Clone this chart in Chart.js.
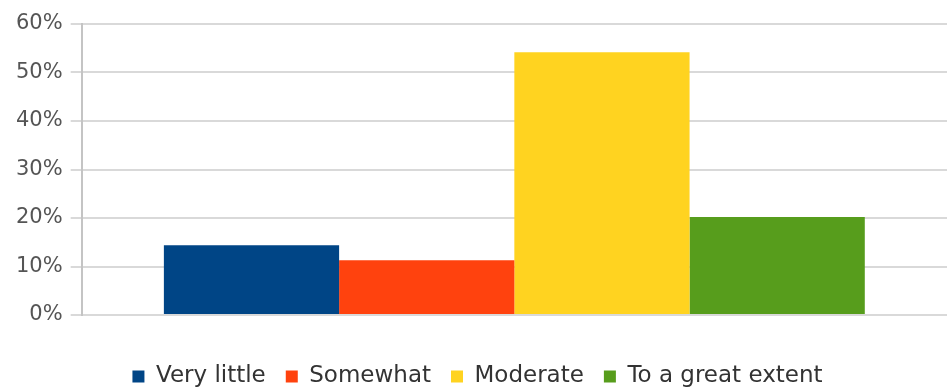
<!DOCTYPE html>
<html>
<head>
<meta charset="utf-8">
<script src="https://cdn.jsdelivr.net/npm/chart.js@4/dist/chart.umd.min.js"></script>
<style>
  html, body { margin: 0; padding: 0; background: #fff; }
  #wrap { width: 947px; height: 390px; }
</style>
</head>
<body>
<div id="wrap"><canvas id="bar-chart"></canvas></div>
<script>
  // categories / series
  const categories = [''];
  const seriesNames = ['Very little', 'Somewhat', 'Moderate', 'To a great extent'];
  const seriesValues = [14.4, 11.3, 54.2, 20.2];
  const seriesColors = ['#004586', '#ff420e', '#ffd320', '#579d1c'];
  const yTicks = [0, 10, 20, 30, 40, 50, 60];

  const barCtx = document.getElementById('bar-chart').getContext('2d');

  new Chart(barCtx, {
    type: 'bar',
    data: {
      labels: categories,
      datasets: seriesNames.map(function (name, i) {
        return {
          label              : name,
          backgroundColor    : seriesColors[i],
          borderWidth        : 0,
          data               : [seriesValues[i]],
          categoryPercentage : 0.81,
          barPercentage      : 1,
        };
      }),
    },
    options: {
      responsive: true,
      maintainAspectRatio: false,
      animation: false,
      layout: {
        padding: { top: 24, right: 0, left: 8, bottom: -8 },
      },
      plugins: {
        tooltip: { enabled: false },
        legend: {
          position: 'bottom',
          labels: {
            boxWidth: 12,
            boxHeight: 12,
            padding: 20,
            color: '#333',
            font: { family: 'DejaVu Sans', size: 23 },
          },
        },
      },
      scales: {
        x: {
          ticks: { display: false },
          grid: { display: false },
          border: { display: false },
          title: {
            display: true,
            text: '',
            font: { size: 10 },
            padding: { top: 10, bottom: 0 },
          },
        },
        y: {
          min: yTicks[0],
          max: yTicks[yTicks.length - 1],
          afterBuildTicks: function (axis) {
            axis.ticks = yTicks.map(function (v) { return { value: v }; });
          },
          ticks: {
            color: '#555',
            padding: 8,
            font: { family: 'DejaVu Sans', size: 21 },
            callback: function (v) { return v + '%'; },
          },
          grid: {
            color: '#d9d9d9',
            lineWidth: 2,
            tickLength: 11,
          },
          border: { color: '#c4c4c4', width: 2 },
        },
      },
    },
  });
</script>
</body>
</html>
